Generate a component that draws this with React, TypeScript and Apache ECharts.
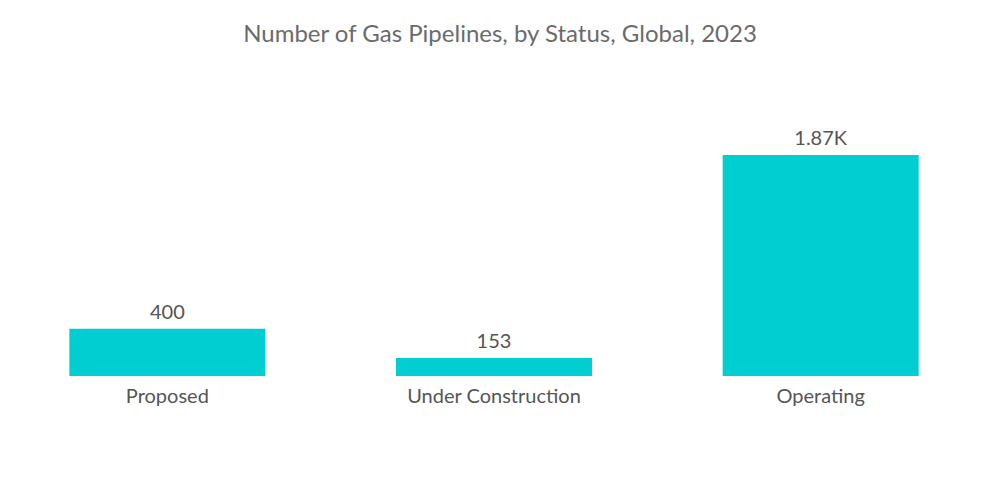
import React, { useEffect, useRef } from "react";
import * as echarts from "echarts";

const categories = ["Proposed", "Under Construction", "Operating"];
const values = [400, 153, 1870];
const titleText = "Number of Gas Pipelines, by Status, Global, 2023";

function fmt(v: number): string {
  if (v >= 1000) return (v / 1000).toFixed(2).replace(/\.?0+$/, "") + "K";
  return String(v);
}

export default function App() {
  const ref = useRef<HTMLDivElement>(null);
  useEffect(() => {
    if (!ref.current) return;
    const chart = echarts.init(ref.current, null, { renderer: "svg" });
    chart.setOption({
      animation: false,
      backgroundColor: "#ffffff",
      title: {
        text: titleText,
        left: "center",
        top: 15,
        textStyle: {
          fontFamily: "Lato",
          fontWeight: "normal",
          fontSize: 24,
          color: "#6b6b6b",
        },
      },
      grid: { left: 4, right: 16, top: 155, bottom: 128 },
      xAxis: {
        type: "category",
        data: categories,
        axisLine: { show: false },
        axisTick: { show: false },
        axisLabel: {
          fontFamily: "Lato",
          fontSize: 20,
          color: "#555555",
          margin: 9,
        },
      },
      yAxis: {
        type: "value",
        min: 0,
        max: 1870,
        show: false,
        splitLine: { show: false },
      },
      series: [
        {
          type: "bar",
          data: values,
          barWidth: "60%",
          itemStyle: { color: "#00CED1" },
          label: {
            show: true,
            position: "top",
            distance: 8,
            fontFamily: "Lato",
            fontSize: 20,
            color: "#555555",
            formatter: (p: any) => fmt(p.value),
          },
        },
      ],
    });
    return () => chart.dispose();
  }, []);
  return (
    <div
      ref={ref}
      style={{ position: "fixed", left: 0, top: 0, width: 1000, height: 504 }}
    />
  );
}
